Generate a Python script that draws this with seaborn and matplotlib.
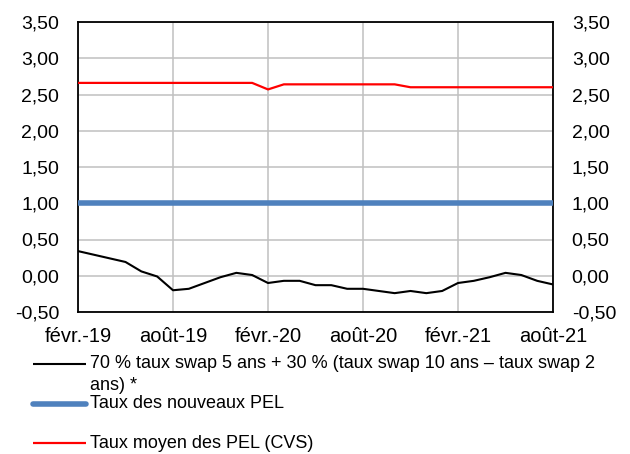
import matplotlib
matplotlib.use("Agg")
import matplotlib.pyplot as plt
from matplotlib.lines import Line2D
import seaborn as sns
import pandas as pd
import numpy as np

# ---- data ----
months = list(range(31))  # févr.-19 ... août-21, monthly
swap_mix = [0.34, 0.29, 0.24, 0.19, 0.06, -0.01, -0.20, -0.18, -0.10, -0.02,
            0.04, 0.01, -0.10, -0.07, -0.07, -0.13, -0.13, -0.18, -0.18, -0.21,
            -0.24, -0.21, -0.24, -0.21, -0.10, -0.07, -0.02, 0.04, 0.01, -0.07,
            -0.12]
new_pel = [1.00] * 31
avg_pel = [2.66] * 12 + [2.57] + [2.64] * 8 + [2.60] * 10

xtick_pos = [0, 6, 12, 18, 24, 30]
xtick_labels = ["févr.-19", "août-19", "févr.-20", "août-20", "févr.-21", "août-21"]
ytick_vals = [-0.5, 0.0, 0.5, 1.0, 1.5, 2.0, 2.5, 3.0, 3.5]
ytick_labels = ["-0,50", "0,00", "0,50", "1,00", "1,50", "2,00", "2,50", "3,00", "3,50"]

label_swap = "70 % taux swap 5 ans + 30 % (taux swap 10 ans – taux swap 2\nans) *"
label_new = "Taux des nouveaux PEL"
label_avg = "Taux moyen des PEL (CVS)"

df = pd.DataFrame({"mois": months, "swap": swap_mix, "new": new_pel, "avg": avg_pel})

sns.set_theme(style="white")
plt.rcParams["font.family"] = ["Liberation Sans", "DejaVu Sans"]

W, H = 630, 454
fig = plt.figure(figsize=(6.3, 4.54), dpi=100)
ax = fig.add_axes([78 / W, 1 - 312 / H, 475 / W, 290 / H])

black = "#000000"
blue = "#4F81BD"
red = "#FF0000"

sns.lineplot(data=df, x="mois", y="avg", ax=ax, color=red, linewidth=1.6, zorder=3)
sns.lineplot(data=df, x="mois", y="new", ax=ax, color=blue, linewidth=4.0, zorder=3)
sns.lineplot(data=df, x="mois", y="swap", ax=ax, color=black, linewidth=1.5, zorder=3)

ax.set_xlim(0, 30)
ax.set_ylim(-0.5, 3.5)
ax.set_xticks(xtick_pos)
ax.set_xticklabels(xtick_labels)
ax.set_yticks(ytick_vals)
ax.set_yticklabels(ytick_labels)
ax.set_xlabel("")
ax.set_ylabel("")

ax.grid(True, color="#C0C0C0", linewidth=1.1, zorder=0)
ax.set_axisbelow(True)
for s in ax.spines.values():
    s.set_visible(True)
    s.set_color("black")
    s.set_linewidth(1.3)

ax.tick_params(axis="y", left=False, right=False, labelleft=True, labelright=True,
               labelsize=14, pad=13.5, length=0, colors="black")
ax.tick_params(axis="x", bottom=False, labelsize=14.5, pad=10.5, length=0, colors="black")

# ---- legend (manual, below the plot) ----
def px(x, y):
    return x / W, 1 - y / H

fs_leg = 13
hx0, hx1, tx = 33, 86, 90
entries = [(364, black, 1.5, label_swap, 367),
           (404, blue, 4.0, label_new, 404),
           (443, red, 1.6, label_avg, 443)]
for hy, col, lw, lab, ty in entries:
    x0, y0 = px(hx0, hy)
    x1, _ = px(hx1, hy)
    fig.add_artist(Line2D([x0, x1], [y0, y0], color=col, linewidth=lw,
                          solid_capstyle="round" if lw > 3 else "butt",
                          transform=fig.transFigure))
    tx_, ty_ = px(tx, ty)
    if "\n" in lab:
        fig.text(tx_, px(0, 355)[1], lab, fontsize=fs_leg, ha="left", va="top",
                 linespacing=1.35, color="black")
    else:
        fig.text(tx_, ty_, lab, fontsize=fs_leg, ha="left", va="center", color="black")

fig.savefig("out.png", dpi=100)
